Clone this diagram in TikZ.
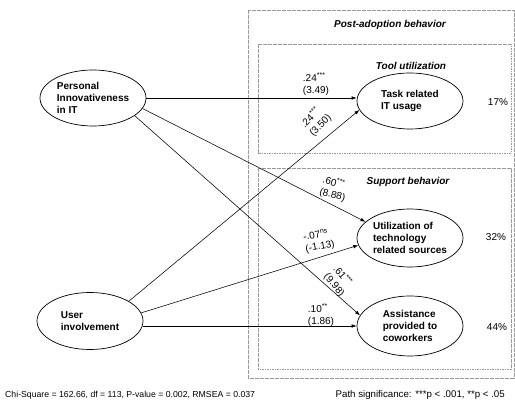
\documentclass[tikz,border=0pt]{standalone}
\usepackage{fontspec}
\setmainfont{Liberation Sans}
\usetikzlibrary{arrows.meta,shapes.geometric}
\tikzset{
  latent/.style={draw, ellipse, line width=0.7pt, minimum width=106pt, minimum height=56pt, inner sep=0pt, align=left, font=\fontsize{10}{12.3}\selectfont\bfseries},
  arr/.style={line width=0.55pt, -{Latex[length=5pt,width=3.6pt]}},
  grp/.style={draw=gray!80, line width=0.5pt, dash pattern=on 1.6pt off 0.9pt},
  ttl/.style={font=\fontsize{10}{12}\selectfont\bfseries\itshape},
  coef/.style={font=\fontsize{10}{12}\selectfont, align=left, inner sep=0pt},
  pct/.style={font=\fontsize{10}{12}\selectfont, inner sep=0pt},
  foot/.style={font=\fontsize{8.7}{11}\selectfont, inner sep=0pt}
}
\begin{document}
\begin{tikzpicture}[x=1pt,y=-1pt]
\useasboundingbox (0,0) rectangle (515,406);
% group boxes
\draw[grp] (248,10) rectangle (514,378);
\draw[grp] (258,44) rectangle (511,153);
\draw[grp] (258,168) rectangle (511,369);
\node[ttl] (tpost) at (390,25) {Post-adoption behavior};
\node[ttl] (ttool) at (411,66) {Tool utilization};
\node[ttl] (tsupp) at (408,182) {Support behavior};
% constructs
\node[latent] (piit) at (93,98) {Personal\\Innovativeness\\in IT};
\node[latent, minimum height=57pt] (ui) at (90,321) {User\\involvement};
\node[latent] (task) at (410,101) {Task related\\IT usage};
\node[latent, minimum height=58pt] (util) at (410,238) {Utilization of\\technology\\related sources};
\node[latent, minimum height=60pt] (assist) at (410,326) {Assistance\\provided to\\coworkers};
% paths
\draw[arr] (piit.east) -- (piit.east -| task.west);
\draw[arr] (piit.-12) -- (util.160);
\draw[arr] (piit.-23) -- (assist.168);
\draw[arr] (ui.27) -- (task.190);
\draw[arr] (ui.9) -- (util.188);
\draw[arr] (assist.west -| ui.east) -- (assist.west);
% coefficients
\node[coef] (c1) at (316,84) {.24\textsuperscript{***}\\(3.49)};
\node[coef, rotate=45] (c2) at (316,121) {.24\textsuperscript{***}\\(3.50)};
\node[coef, rotate=-15] (c3) at (334,189) {.60\textsuperscript{***}\\(8.88)};
\node[coef, rotate=10] (c4) at (319,241) {-.07\textsuperscript{ns}\\(-1.13)};
\node[coef, rotate=-50] (c5) at (339,281) {.61\textsuperscript{***}\\(9.98)};
\node[coef] (c6) at (321,315) {.10\textsuperscript{**}\\(1.86)};
% explained variance
\node[pct] (p1) at (498,102) {17\%};
\node[pct] (p2) at (496,237) {32\%};
\node[pct] (p3) at (497,327) {44\%};
% footer
\node[foot, anchor=west] (chi) at (5,395) {Chi-Square = 162.66, df = 113, P-value = 0.002, RMSEA = 0.037};
\node[foot, anchor=east, font=\fontsize{9.7}{11}\selectfont] (sig) at (505,395) {Path significance: ***p < .001, **p < .05};
\end{tikzpicture}
\end{document}
